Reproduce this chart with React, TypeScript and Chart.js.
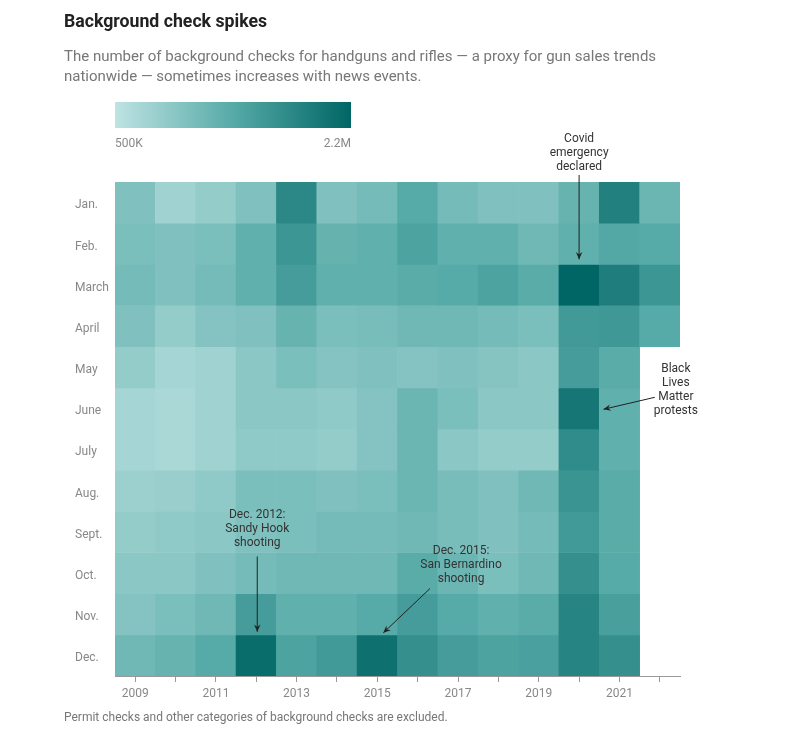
import React, { useEffect, useRef } from "react";
import { Chart, registerables } from "chart.js";

Chart.register(...registerables);

const years = ["2009", "2010", "2011", "2012", "2013", "2014", "2015", "2016", "2017", "2018", "2019", "2020", "2021", "2022"];
const months = ["Jan.", "Feb.", "March", "April", "May", "June", "July", "Aug.", "Sept.", "Oct.", "Nov.", "Dec."];

// Monthly handgun + long gun background checks, in thousands (Jan..Dec)
const checks2009 = [1010, 1044, 1095, 1010, 840, 704, 704, 789, 840, 925, 976, 1146];
const checks2010 = [755, 1010, 1010, 840, 704, 670, 670, 806, 874, 925, 1044, 1214];
const checks2011 = [840, 1044, 1095, 976, 755, 755, 755, 874, 925, 1010, 1146, 1350];
const checks2012 = [1010, 1265, 1265, 1010, 925, 925, 874, 1044, 1010, 1095, 1520, 2115];
const checks2013 = [1775, 1605, 1520, 1214, 1044, 925, 874, 1044, 1044, 1146, 1265, 1435];
const checks2014 = [1010, 1231, 1265, 1044, 976, 874, 840, 1010, 1095, 1146, 1265, 1554];
const checks2015 = [1095, 1265, 1265, 1061, 1010, 976, 976, 1044, 1095, 1146, 1350, 2064];
const checks2016 = [1350, 1435, 1316, 1146, 976, 1180, 1180, 1180, 1146, 1316, 1520, 1690];
const checks2017 = [1095, 1265, 1350, 1146, 1010, 1044, 925, 1061, 1061, 1180, 1350, 1520];
const checks2018 = [1010, 1265, 1435, 1095, 959, 925, 840, 1010, 1010, 1044, 1265, 1435];
const checks2019 = [1010, 1146, 1316, 1044, 925, 925, 840, 1146, 1095, 1146, 1316, 1469];
const checks2020 = [1214, 1265, 2200, 1554, 1520, 1996, 1724, 1622, 1554, 1690, 1826, 1826];
const checks2021 = [1860, 1384, 1894, 1571, 1316, 1265, 1265, 1316, 1316, 1350, 1486, 1690];
const checks2022 = [1180, 1350, 1605, 1350, null, null, null, null, null, null, null, null];

const scaleMin = 500;
const scaleMax = 2200;
const legendLabels = ["500K", "2.2M"];

const byYear = [checks2009, checks2010, checks2011, checks2012, checks2013, checks2014, checks2015, checks2016, checks2017, checks2018, checks2019, checks2020, checks2021, checks2022];

const stops: [number, number[]][] = [
  [0, [190, 227, 226]],
  [0.5, [86, 170, 167]],
  [1, [0, 102, 101]],
];

function colorFor(v: number) {
  let t = (v - scaleMin) / (scaleMax - scaleMin);
  t = Math.max(0, Math.min(1, t));
  for (let i = 0; i < stops.length - 1; i++) {
    const [t0, c0] = stops[i];
    const [t1, c1] = stops[i + 1];
    if (t <= t1) {
      const f = (t - t0) / (t1 - t0);
      const c = c0.map((a, k) => Math.round(a + (c1[k] - a) * f));
      return `rgb(${c[0]},${c[1]},${c[2]})`;
    }
  }
  return "rgb(0,102,101)";
}

type Note = { lines: string[]; x: number; y: number; from: [number, number]; to: [number, number] };

const annotationPlugin = {
  id: "notes",
  afterDraw(chart: any) {
    const { ctx } = chart;
    const xs = chart.scales.x;
    const ys = chart.scales.y;
    const colX = (i: number) => xs.getPixelForValue(i);
    const rowY = (i: number) => ys.getPixelForValue(i);
    const notes: Note[] = [
      {
        lines: ["Covid", "emergency", "declared"],
        x: colX(11), y: rowY(0) - 43,
        from: [colX(11), rowY(0) - 7],
        to: [colX(11), rowY(2) - 5],
      },
      {
        lines: ["Black", "Lives", "Matter", "protests"],
        x: colX(13) + 16, y: rowY(4.5) + 2,
        from: [colX(13) - 5, rowY(5.4) - 7],
        to: [colX(12) - 16, rowY(5.4) + 5],
      },
      {
        lines: ["Dec. 2012:", "Sandy Hook", "shooting"],
        x: colX(3) + 1, y: rowY(8) + 4,
        from: [colX(3) + 1, rowY(9) + 4],
        to: [colX(3) + 1, rowY(11) - 3],
      },
      {
        lines: ["Dec. 2015:", "San Bernardino", "shooting"],
        x: colX(8) + 3, y: rowY(9) - 2,
        from: [colX(8) - 28, rowY(9) + 36],
        to: [colX(6) + 6, rowY(11) - 2],
      },
    ];
    ctx.save();
    ctx.font = "12px Roboto";
    ctx.textAlign = "center";
    ctx.textBaseline = "middle";
    for (const n of notes) {
      ctx.fillStyle = "#333";
      n.lines.forEach((l, i) => ctx.fillText(l, n.x, n.y + i * 14));
      const [x1, y1] = n.from;
      const [x2, y2] = n.to;
      ctx.strokeStyle = "#222";
      ctx.lineWidth = 1;
      ctx.beginPath();
      ctx.moveTo(x1, y1);
      ctx.lineTo(x2, y2);
      ctx.stroke();
      const ang = Math.atan2(y2 - y1, x2 - x1);
      const hl = 8;
      const hw = 0.42;
      ctx.beginPath();
      ctx.moveTo(x2, y2);
      ctx.lineTo(x2 - hl * Math.cos(ang - hw), y2 - hl * Math.sin(ang - hw));
      ctx.lineTo(x2 - hl * 0.6 * Math.cos(ang), y2 - hl * 0.6 * Math.sin(ang));
      ctx.lineTo(x2 - hl * Math.cos(ang + hw), y2 - hl * Math.sin(ang + hw));
      ctx.closePath();
      ctx.fillStyle = "#222";
      ctx.fill();
    }
    ctx.restore();
  },
};

export default function App() {
  const ref = useRef<HTMLCanvasElement | null>(null);
  useEffect(() => {
    if (!ref.current) return;
    Chart.defaults.font.family = "Roboto";
    const datasets = months.map((m, mi) => ({
      label: m,
      data: years.map((_, yi) => (byYear[yi][mi] == null ? null : [mi, mi + 1])),
      backgroundColor: years.map((_, yi) => {
        const v = byYear[yi][mi];
        return v == null ? "rgba(0,0,0,0)" : colorFor(v);
      }),
      borderWidth: 0,
      barPercentage: 1,
      categoryPercentage: 1,
      grouped: false,
    }));
    const chart = new Chart(ref.current, {
      type: "bar",
      data: { labels: years, datasets: datasets as any },
      options: {
        animation: false,
        responsive: false,
        events: [],
        layout: { padding: { left: 75, right: 122, top: 182, bottom: 36 } },
        plugins: { legend: { display: false }, tooltip: { enabled: false } },
        scales: {
          x: {
            type: "category",
            offset: true,
            grid: { display: true, drawOnChartArea: false, drawTicks: true, tickLength: 6, color: "#999", offset: false },
            border: { display: true, color: "#999" },
            ticks: {
              autoSkip: false,
              maxRotation: 0,
              padding: 5,
              color: "#888",
              font: { size: 12 },
              callback: (_v: any, i: number) => (i % 2 === 0 ? years[i] : ""),
            },
            afterFit: (s: any) => { s.height = 30; },
          },
          y: {
            type: "linear",
            min: 0,
            max: 12,
            reverse: true,
            grid: { display: false },
            border: { display: false },
            afterBuildTicks: (s: any) => { s.ticks = months.map((_, i) => ({ value: i + 0.57 })); },
            ticks: {
              crossAlign: "far",
              padding: 0,
              color: "#888",
              font: { size: 12 },
              callback: (v: any) => months[Math.floor(Number(v))],
            },
            afterFit: (s: any) => { s.width = 40; },
          },
        },
      },
      plugins: [annotationPlugin],
    });
    return () => chart.destroy();
  }, []);

  const font = "Roboto, sans-serif";
  return (
    <div>
      <canvas ref={ref} width={802} height={742} style={{ position: "absolute", left: 0, top: 0, width: 802, height: 742 }} />
      <div style={{ position: "absolute", left: 64, top: 10, font: `bold 17.7px ${font}`, color: "#222", lineHeight: "22px" }}>
        Background check spikes
      </div>
      <div style={{ position: "absolute", left: 64, top: 46, width: 640, font: `15px ${font}`, color: "#777", lineHeight: "20px" }}>
        The number of background checks for handguns and rifles — a proxy for gun sales trends nationwide — sometimes increases with news events.
      </div>
      <div
        style={{
          position: "absolute", left: 115, top: 102, width: 236, height: 26,
          background: `linear-gradient(to right, ${colorFor(scaleMin)}, ${colorFor((scaleMin + scaleMax) / 2)}, ${colorFor(scaleMax)})`,
        }}
      />
      <div style={{ position: "absolute", left: 115, top: 136, font: `12px ${font}`, color: "#888" }}>{legendLabels[0]}</div>
      <div style={{ position: "absolute", left: 251, width: 100, textAlign: "right", top: 136, font: `12px ${font}`, color: "#888" }}>{legendLabels[1]}</div>
      <div style={{ position: "absolute", left: 64, top: 710, font: `12px ${font}`, color: "#777" }}>
        Permit checks and other categories of background checks are excluded.
      </div>
    </div>
  );
}
